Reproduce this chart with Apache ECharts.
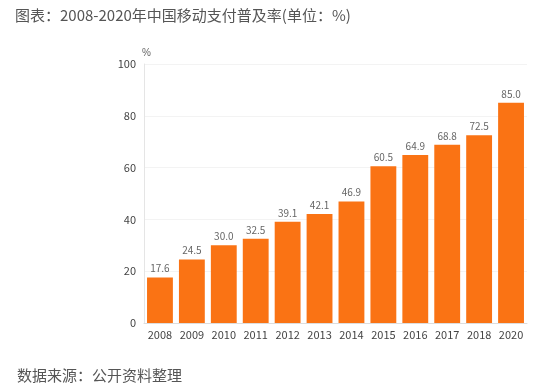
<!DOCTYPE html>
<html><head><meta charset="utf-8">
<script src="https://cdn.jsdelivr.net/npm/echarts@6/dist/echarts.min.js"></script>
<style>html,body{margin:0;padding:0;background:#fff}#c{width:550px;height:391px}</style>
</head><body><div id="c"></div>
<script>
const categories = ['2008','2009','2010','2011','2012','2013','2014','2015','2016','2017','2018','2020'];
const values = [17.6,24.5,30.0,32.5,39.1,42.1,46.9,60.5,64.9,68.8,72.5,85.0];
const titleText = '图表：2008-2020年中国移动支付普及率(单位：%)';
const sourceText = '数据来源：公开资料整理';
const font = '"Noto Sans CJK SC","Microsoft YaHei",sans-serif';
const chart = echarts.init(document.getElementById('c'));
chart.setOption({
  animation:false,
  title:[
    {text:titleText,left:10,top:3,textStyle:{fontSize:15,fontWeight:'normal',color:'#555',fontFamily:font}},
    {text:sourceText,left:12,top:363,textStyle:{fontSize:15,fontWeight:'normal',color:'#555',fontFamily:font}}
  ],
  grid:{left:144,right:23,top:64,bottom:68},
  xAxis:{type:'category',data:categories,
    axisLine:{lineStyle:{color:'#ddd'}},axisTick:{show:false},
    axisLabel:{color:'#444',fontSize:11,margin:6,fontFamily:font}},
  yAxis:{type:'value',min:0,max:100,interval:20,name:'%',
    nameGap:6,nameTextStyle:{color:'#666',fontSize:10,align:'left',padding:[0,0,0,-2]},
    axisLine:{show:true,lineStyle:{color:'#e5e5e5'}},axisTick:{show:false},
    splitLine:{lineStyle:{color:'#f3f3f3'}},
    axisLabel:{color:'#444',fontSize:11,margin:8,fontFamily:font}},
  series:[{type:'bar',data:values,barCategoryGap:'19%',
    itemStyle:{color:'#fa7314'},
    label:{show:true,position:'top',distance:4,color:'#666',fontSize:10,fontFamily:font,
      formatter:p=>p.value.toFixed(1)}}]
});
</script></body></html>
